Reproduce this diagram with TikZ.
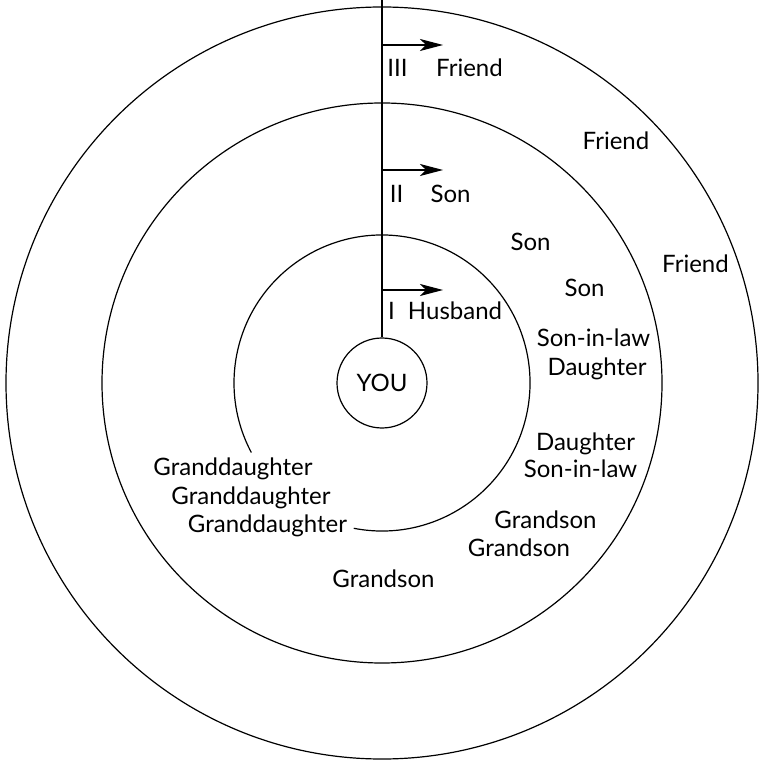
\documentclass[tikz,border=0pt]{standalone}
\usepackage{fontspec}
\setmainfont{Lato}
\usetikzlibrary{arrows.meta,calc,positioning}

\begin{document}
\begin{tikzpicture}[x=0.5pt, y=-0.5pt, line width=0.6pt]
\tikzstyle{lbl} = [anchor=base, inner sep=0pt, font=\fontsize{12}{14}\selectfont]
\tikzstyle{pfeil} = [-{Stealth[length=11.5pt, width=6pt, inset=3pt]}]

\useasboundingbox (0,0) rectangle (762,763);

\coordinate (mid) at (382,383);
\coordinate (top) at (382,0);

% the three rings
\draw (mid) circle (188pt);
\draw (mid) circle (140pt);
\draw ([shift={(259:74pt)}]mid) arc[start angle=259, end angle=568, radius=74pt];

\node [draw, circle, minimum size=45pt, inner sep=0pt, font=\fontsize{12}{14}\selectfont] (you) at (mid) {YOU};
\draw (you) -- (top);

\coordinate (ringa) at (382,290);
\coordinate (ringb) at (382,170);
\coordinate (ringc) at (382,45);
\draw [pfeil] (ringa) -- ++(61,0) coordinate (ringaend);
\draw [pfeil] (ringb) -- ++(61,0) coordinate (ringbend);
\draw [pfeil] (ringc) -- ++(61,0) coordinate (ringcend);

\node [lbl] (numa) at (391.5,320) {I};
\node [lbl] (husband) at (455,320) {Husband};
\node [lbl] (numb) at (396.5,203) {II};
\node [lbl] (sonb) at (450.5,203) {Son};
\node [lbl] (numc) at (397.5,77) {III};
\node [lbl] (friendc) at (469.5,77) {Friend};

\node [lbl] (friendd) at (616,150) {Friend};
\node [lbl] (friende) at (695.5,273) {Friend};

\node [lbl] (sond) at (530.5,251) {Son};
\node [lbl] (sone) at (584.5,297) {Son};
\node [lbl] (sonlawa) at (593.5,347) {Son-in-law};
\node [lbl] (daughtera) at (597,376) {Daughter};
\node [lbl] (daughterb) at (585.5,450) {Daughter};
\node [lbl] (sonlawb) at (580.5,477) {Son-in-law};
\node [lbl] (grandsona) at (545.5,528) {Grandson};
\node [lbl] (grandsonb) at (519,556) {Grandson};
\node [lbl] (grandsonc) at (383.5,587) {Grandson};

\node [lbl] (gdaughtera) at (233,475) {Granddaughter};
\node [lbl] (gdaughterb) at (251,504) {Granddaughter};
\node [lbl] (gdaughterc) at (267.5,532) {Granddaughter};

\end{tikzpicture}
\end{document}
